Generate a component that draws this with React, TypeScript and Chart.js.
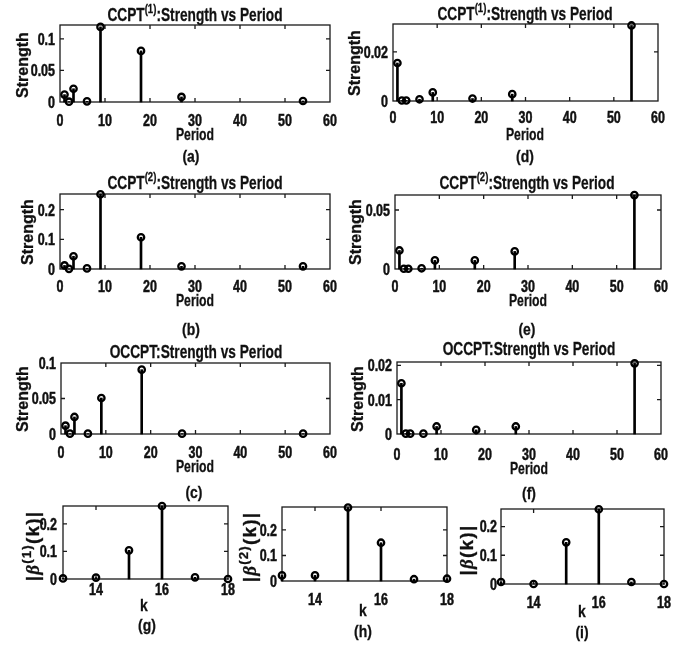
import React, { useEffect, useRef } from "react";
import { Chart, registerables } from "chart.js";
Chart.register(...registerables);

// ---------- data ----------
const PERIODS = [1, 2, 3, 6, 9, 18, 27, 54];
const CCPT1_A = [0.0117, 0.0005, 0.021, 0.001, 0.119, 0.081, 0.008, 0.0016];
const CCPT1_D = [0.0155, 0.0002, 0.0002, 0.0007, 0.0035, 0.001, 0.0028, 0.0308];
const CCPT2_B = [0.012, 0.0005, 0.043, 0.002, 0.252, 0.107, 0.009, 0.009];
const CCPT2_E = [0.0157, 0.0002, 0.0002, 0.0006, 0.0073, 0.0073, 0.0149, 0.0626];
const OCCPT_C = [0.0117, 0.0005, 0.024, 0.0005, 0.0507, 0.0906, 0.0005, 0.0005];
const OCCPT_F = [0.0148, 0.0001, 0.0001, 0.0001, 0.0022, 0.0012, 0.0022, 0.0206];
const K = [13, 14, 15, 16, 17, 18];
const BETA1 = [0.002, 0.005, 0.104, 0.265, 0.006, 0.0];
const BETA2 = [0.022, 0.022, 0.288, 0.15, 0.007, 0.009];
const BETA = [0.007, 0.0, 0.145, 0.26, 0.007, 0.0];
const PERIOD_TICKS = [0, 10, 20, 30, 40, 50, 60];
const K_TICKS = [14, 16, 18];
const Y_TICKS_A = [0, 0.05, 0.1];
const Y_TICKS_D = [0, 0.02];
const Y_TICKS_B = [0, 0.1, 0.2];
const Y_TICKS_E = [0, 0.05];
const Y_TICKS_C = [0, 0.05, 0.1];
const Y_TICKS_F = [0, 0.01, 0.02];
const Y_TICKS_BETA = [0, 0.1, 0.2];

const ARIAL = '"Liberation Sans", Arial, sans-serif';
const INK = "#111";
const SQUEEZE = 0.78;

const PADL = 50, PADT = 12, PADR = 14, PADB = 32;

type PanelCfg = {
  L: number; T: number; R: number; B: number;
  xs: number[]; ys: number[];
  xMin: number; xMax: number; xTicks: number[];
  yMax: number; yTicks: number[];
  xBase: number; yPad: number;
};

function makeBoxPlugin(p: PanelCfg) {
  return {
    id: "matlabBox",
    beforeDatasetsDraw(chart: any) {
      const { ctx, chartArea: a, scales } = chart;
      const tl = 4;
      ctx.save();
      ctx.strokeStyle = "#1a1a1a";
      ctx.lineWidth = 1.3;
      ctx.strokeRect(a.left, a.top, a.right - a.left, a.bottom - a.top);
      ctx.beginPath();
      for (const t of scales.x.ticks) {
        const px = scales.x.getPixelForValue(t.value);
        if (px <= a.left + 1 || px >= a.right - 1) continue;
        ctx.moveTo(px, a.bottom); ctx.lineTo(px, a.bottom - tl);
        ctx.moveTo(px, a.top); ctx.lineTo(px, a.top + tl);
      }
      for (const t of scales.y.ticks) {
        const py = scales.y.getPixelForValue(t.value);
        if (py <= a.top + 1 || py >= a.bottom - 1) continue;
        ctx.moveTo(a.left, py); ctx.lineTo(a.left + tl, py);
        ctx.moveTo(a.right, py); ctx.lineTo(a.right - tl, py);
      }
      ctx.stroke();

      // condensed tick labels, taken from the scales' own ticks
      ctx.fillStyle = INK;
      ctx.strokeStyle = INK;
      ctx.lineWidth = 0.5;
      ctx.font = `bold 16px ${ARIAL}`;
      ctx.textBaseline = "alphabetic";
      for (const t of scales.x.ticks) {
        const px = scales.x.getPixelForValue(t.value);
        ctx.save();
        ctx.translate(px, a.bottom + p.xBase);
        ctx.scale(SQUEEZE, 1);
        ctx.textAlign = "center";
        ctx.fillText(String(t.value), 0, 0);
        ctx.strokeText(String(t.value), 0, 0);
        ctx.restore();
      }
      for (const t of scales.y.ticks) {
        const py = scales.y.getPixelForValue(t.value);
        ctx.save();
        ctx.translate(a.left - p.yPad, py + 5.8);
        ctx.scale(SQUEEZE, 1);
        ctx.textAlign = "right";
        ctx.fillText(String(t.value), 0, 0);
        ctx.strokeText(String(t.value), 0, 0);
        ctx.restore();
      }
      ctx.restore();
    },
  };
}

function StemPanel({ p }: { p: PanelCfg }) {
  const ref = useRef<HTMLCanvasElement | null>(null);
  useEffect(() => {
    if (!ref.current) return;
    const pts = p.xs.map((x, i) => ({ x, y: p.ys[i] }));
    const chart = new Chart(ref.current, {
      type: "scatter",
      data: {
        datasets: [
          {
            type: "line",
            data: pts,
            showLine: false,
            pointRadius: 3.2,
            pointHoverRadius: 3.2,
            pointBorderWidth: 2.3,
            pointBorderColor: "#000",
            pointBackgroundColor: "rgba(0,0,0,0)",
            borderColor: "#000",
            clip: false,
            order: 0,
          } as any,
          {
            type: "bar",
            data: pts,
            backgroundColor: "#000",
            borderWidth: 0,
            barThickness: 2,
            clip: false,
            order: 1,
          } as any,
        ],
      },
      options: {
        responsive: true,
        maintainAspectRatio: false,
        animation: false,
        events: [],
        layout: { padding: { left: 0, top: PADT, right: PADR, bottom: 0 } },
        plugins: { legend: { display: false }, tooltip: { enabled: false }, title: { display: false } },
        scales: {
          x: {
            type: "linear",
            min: p.xMin,
            max: p.xMax,
            offset: false,
            grid: { display: false, drawTicks: false },
            border: { display: false },
            ticks: { display: false, autoSkip: false, includeBounds: false },
            afterBuildTicks: (s: any) => { s.ticks = p.xTicks.map((v) => ({ value: v })); },
            afterFit: (s: any) => { s.height = PADB; s.paddingLeft = 0; s.paddingRight = 0; },
          },
          y: {
            type: "linear",
            min: 0,
            max: p.yMax,
            grid: { display: false, drawTicks: false },
            border: { display: false },
            ticks: { display: false, autoSkip: false, includeBounds: false },
            afterBuildTicks: (s: any) => { s.ticks = p.yTicks.map((v) => ({ value: v })); },
            afterFit: (s: any) => { s.width = PADL; s.paddingTop = 0; s.paddingBottom = 0; },
          },
        },
      } as any,
      plugins: [makeBoxPlugin(p)],
    });
    return () => chart.destroy();
  }, [p]);
  const w = p.R - p.L + PADL + PADR;
  const h = p.B - p.T + PADT + PADB;
  return (
    <div style={{ position: "absolute", left: p.L - PADL, top: p.T - PADT, width: w, height: h }}>
      <canvas ref={ref} />
    </div>
  );
}

const PANELS: PanelCfg[] = [
  { L: 60, T: 25, R: 330, B: 102, xs: PERIODS, ys: CCPT1_A, xMin: 0, xMax: 60, xTicks: PERIOD_TICKS, yMax: 0.122, yTicks: Y_TICKS_A, xBase: 24, yPad: 5 },
  { L: 393, T: 24, R: 658, B: 101, xs: PERIODS, ys: CCPT1_D, xMin: 0, xMax: 60, xTicks: PERIOD_TICKS, yMax: 0.0314, yTicks: Y_TICKS_D, xBase: 22, yPad: 5 },
  { L: 60, T: 194, R: 330, B: 269, xs: PERIODS, ys: CCPT2_B, xMin: 0, xMax: 60, xTicks: PERIOD_TICKS, yMax: 0.253, yTicks: Y_TICKS_B, xBase: 22.7, yPad: 5 },
  { L: 395, T: 195, R: 661, B: 269, xs: PERIODS, ys: CCPT2_E, xMin: 0, xMax: 60, xTicks: PERIOD_TICKS, yMax: 0.0627, yTicks: Y_TICKS_E, xBase: 23.3, yPad: 5 },
  { L: 61, T: 363, R: 330, B: 434, xs: PERIODS, ys: OCCPT_C, xMin: 0, xMax: 60, xTicks: PERIOD_TICKS, yMax: 0.1, yTicks: Y_TICKS_C, xBase: 24.3, yPad: 5 },
  { L: 397, T: 362, R: 661, B: 434, xs: PERIODS, ys: OCCPT_F, xMin: 0, xMax: 60, xTicks: PERIOD_TICKS, yMax: 0.021, yTicks: Y_TICKS_F, xBase: 25.5, yPad: 5 },
  { L: 63, T: 506, R: 228, B: 579, xs: K, ys: BETA1, xMin: 13, xMax: 18, xTicks: K_TICKS, yMax: 0.265, yTicks: Y_TICKS_BETA, xBase: 16, yPad: 6 },
  { L: 282, T: 507, R: 447, B: 581, xs: K, ys: BETA2, xMin: 13, xMax: 18, xTicks: K_TICKS, yMax: 0.29, yTicks: Y_TICKS_BETA, xBase: 24, yPad: 5 },
  { L: 501, T: 509, R: 664, B: 584, xs: K, ys: BETA, xMin: 13, xMax: 18, xTicks: K_TICKS, yMax: 0.261, yTicks: Y_TICKS_BETA, xBase: 24.3, yPad: 4 },
];

function Label({ x, y, size = 16, squeeze = 0.82, rotate = false, spacing = 0, children }: any) {
  const tf = rotate
    ? `translate(-50%, -50%) rotate(-90deg)`
    : `translate(-50%, -50%) scaleX(${squeeze})`;
  return (
    <div
      style={{
        position: "absolute",
        left: x,
        top: y,
        transform: tf,
        fontFamily: ARIAL,
        fontWeight: "bold",
        fontSize: size,
        lineHeight: 1,
        letterSpacing: spacing,
        whiteSpace: "nowrap",
        color: INK,
        WebkitTextStroke: "0.3px #111",
        zIndex: 2,
      }}
    >
      {children}
    </div>
  );
}

const supStyle: React.CSSProperties = { fontSize: "70%", lineHeight: 0, verticalAlign: "0.55em" };
const betaStyle: React.CSSProperties = { fontFamily: '"Liberation Serif", "DejaVu Serif", serif', fontStyle: "italic" };

function BetaLabel({ sup }: { sup?: string }) {
  return (
    <span>
      |<span style={betaStyle}>β</span>
      {sup ? <sup style={supStyle}>{sup}</sup> : null}(k)|
    </span>
  );
}

export default function App() {
  return (
    <div style={{ position: "absolute", left: 0, top: 0, width: 693, height: 646, background: "#fff", overflow: "hidden" }}>
      {PANELS.map((p, i) => (
        <StemPanel key={i} p={p} />
      ))}

      {/* titles */}
      <Label x={195} y={14} size={19} squeeze={0.72}>CCPT<sup style={supStyle}>(1)</sup>:Strength vs Period</Label>
      <Label x={525} y={12.5} size={19} squeeze={0.72}>CCPT<sup style={supStyle}>(1)</sup>:Strength vs Period</Label>
      <Label x={195} y={181.5} size={19} squeeze={0.72}>CCPT<sup style={supStyle}>(2)</sup>:Strength vs Period</Label>
      <Label x={527} y={181.5} size={19} squeeze={0.72}>CCPT<sup style={supStyle}>(2)</sup>:Strength vs Period</Label>
      <Label x={196} y={351} size={19} squeeze={0.72}>OCCPT:Strength vs Period</Label>
      <Label x={529} y={348} size={19} squeeze={0.72}>OCCPT:Strength vs Period</Label>

      {/* y labels */}
      <Label x={22.5} y={65} size={16} rotate>Strength</Label>
      <Label x={354.7} y={63} size={16} rotate>Strength</Label>
      <Label x={28} y={231.7} size={16} rotate>Strength</Label>
      <Label x={356} y={231.7} size={16} rotate>Strength</Label>
      <Label x={22.5} y={399} size={16} rotate>Strength</Label>
      <Label x={357.7} y={399} size={16} rotate>Strength</Label>
      <Label x={31.7} y={546} size={19} spacing={1.2} rotate><BetaLabel sup="(1)" /></Label>
      <Label x={249} y={547} size={19} spacing={1.2} rotate><BetaLabel sup="(2)" /></Label>
      <Label x={466} y={550} size={19} spacing={1.2} rotate><BetaLabel /></Label>

      {/* x labels */}
      <Label x={195} y={134} size={17} squeeze={0.72}>Period</Label>
      <Label x={525} y={134} size={17} squeeze={0.72}>Period</Label>
      <Label x={195} y={300} size={17} squeeze={0.72}>Period</Label>
      <Label x={528} y={300} size={17} squeeze={0.72}>Period</Label>
      <Label x={195} y={466} size={17} squeeze={0.72}>Period</Label>
      <Label x={529} y={468} size={17} squeeze={0.72}>Period</Label>
      <Label x={144} y={605} size={17}>k</Label>
      <Label x={363} y={610} size={17}>k</Label>
      <Label x={582} y={611} size={17}>k</Label>

      {/* captions */}
      <Label x={191} y={156} size={17}>(a)</Label>
      <Label x={525} y={156} size={17}>(d)</Label>
      <Label x={191} y={329} size={17}>(b)</Label>
      <Label x={527} y={329} size={17}>(e)</Label>
      <Label x={194} y={492} size={17}>(c)</Label>
      <Label x={529} y={493} size={17}>(f)</Label>
      <Label x={147} y={625} size={17}>(g)</Label>
      <Label x={363} y={631} size={17}>(h)</Label>
      <Label x={582} y={632} size={17}>(i)</Label>
    </div>
  );
}
